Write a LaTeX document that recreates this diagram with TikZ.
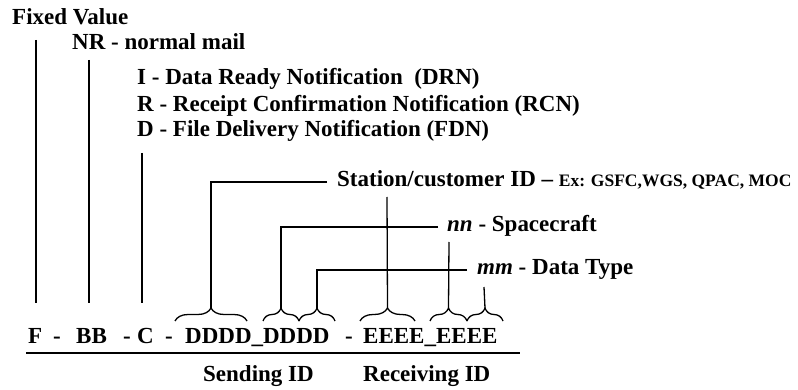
\documentclass[tikz,border=0pt]{standalone}
\usepackage{fontspec}
\setmainfont{Liberation Serif}
\usetikzlibrary{decorations.pathreplacing}
\begin{document}
\begin{tikzpicture}[x=1pt,y=-1pt,
  lbl/.style={anchor=base west, inner sep=0pt, font=\fontsize{23}{27}\selectfont\bfseries},
  conn/.style={line width=1.3pt, line cap=butt},
  brc/.style={decorate, decoration={brace, amplitude=13pt}, line width=1.3pt},
  uline/.style={line width=1.8pt}]
\useasboundingbox (0,0) rectangle (798,390);
% labels
\node[lbl] (fixed) at (12,25) {Fixed Value};
\node[lbl] (nr) at (72,50) {NR - normal mail};
\node[lbl] (drn) at (137,85) {I - Data Ready Notification\ \ (DRN)};
\node[lbl] (rcn) at (137,112) {R - Receipt Confirmation Notification (RCN)};
\node[lbl] (fdn) at (137,137) {D - File Delivery Notification (FDN)};
\node[lbl] (stn) at (337,187) {Station/customer ID -- {\fontsize{17.5}{20}\selectfont Ex: GSFC,WGS, QPAC, MOC}};
\node[lbl] (nn) at (447,232) {\itshape nn\upshape\ - Spacecraft};
\node[lbl] (mm) at (477,275) {\itshape mm\upshape\ - Data Type};
% main string
\node[lbl] (mF) at (28,343) {F};
\node[lbl] (h1) at (53,343) {-};
\node[lbl] (mB) at (76,343) {BB};
\node[lbl] (h2) at (123,343) {-};
\node[lbl] (mC) at (137,343) {C};
\node[lbl] (h3) at (165,343) {-};
\node[lbl] (mD) at (185,343) {DDDD\_DDDD};
\node[lbl] (h4) at (345,343) {-};
\node[lbl] (mE) at (363,343) {EEEE\_EEEE};
\node[lbl] (send) at (203,381) {Sending ID};
\node[lbl] (recv) at (363,381) {Receiving ID};
% coordinates
\coordinate (fTop) at (36,40);   \coordinate (fBot) at (36,303);
\coordinate (bTop) at (89,60);   \coordinate (bBot) at (89,303);
\coordinate (cTop) at (142,153); \coordinate (cBot) at (142,303);
\coordinate (stH) at (327,182);
\coordinate (stR) at (387,197);
\coordinate (nnH) at (438,227);
\coordinate (nnR) at (449,242);
\coordinate (mmH) at (467,270);
\coordinate (mmR) at (484,287);
\coordinate (ulL) at (26,353);   \coordinate (ulR) at (520,353);
% braces
\coordinate (b1l) at (175,321); \coordinate (b1r) at (247,321); \coordinate (t1) at (211,308);
\coordinate (b2l) at (263,321); \coordinate (b2r) at (299,321); \coordinate (t2) at (281,308);
\coordinate (b3l) at (299,321); \coordinate (b3r) at (335,321); \coordinate (t3) at (317,308);
\coordinate (b4l) at (360,321); \coordinate (b4r) at (415,321); \coordinate (t4) at (387.5,308);
\coordinate (b5l) at (430,321); \coordinate (b5r) at (467,321); \coordinate (t5) at (448.5,308);
\coordinate (b6l) at (467,321); \coordinate (b6r) at (503,321); \coordinate (t6) at (485,308);
\draw[brc] (b1l) -- (b1r);
\draw[brc] (b2l) -- (b2r);
\draw[brc] (b3l) -- (b3r);
\draw[brc] (b4l) -- (b4r);
\draw[brc] (b5l) -- (b5r);
\draw[brc] (b6l) -- (b6r);
% connectors
\draw[conn] (fTop) -- (fBot);
\draw[conn] (bTop) -- (bBot);
\draw[conn] (cTop) -- (cBot);
\draw[conn] (stH) -| (t1);
\draw[conn] (stR) -- (t4);
\draw[conn] (nnH) -| (t2);
\draw[conn] (nnR) -- (t5);
\draw[conn] (mmH) -| (t3);
\draw[conn] (mmR) -- (t6);
\draw[uline] (ulL) -- (ulR);
\end{tikzpicture}
\end{document}
